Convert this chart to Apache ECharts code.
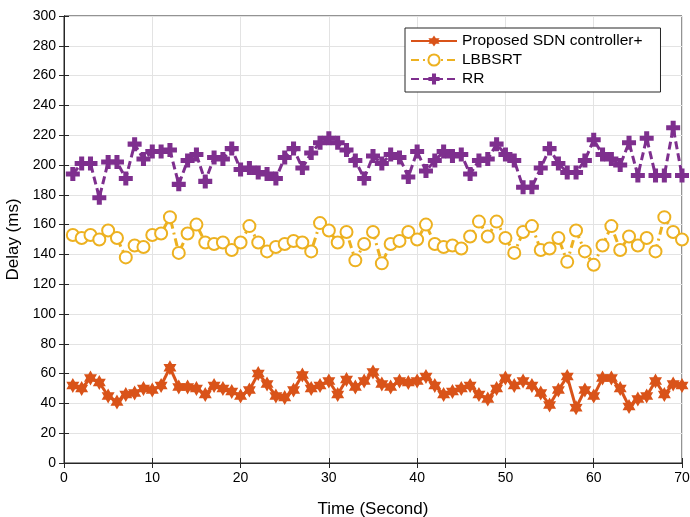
<!DOCTYPE html>
<html>
<head>
<meta charset="utf-8">
<script src="https://cdn.jsdelivr.net/npm/echarts@6/dist/echarts.min.js"></script>
<style>
  html, body { margin: 0; padding: 0; background: #fff; }
  #chart { width: 690px; height: 517px; }
</style>
</head>
<body>
<div id="chart"></div>
<script>
// time in seconds, one sample per second
const timeSec = [1, 2, 3, 4, 5, 6, 7, 8, 9, 10, 11, 12, 13, 14, 15, 16, 17, 18, 19, 20,
  21, 22, 23, 24, 25, 26, 27, 28, 29, 30, 31, 32, 33, 34, 35, 36, 37, 38, 39, 40,
  41, 42, 43, 44, 45, 46, 47, 48, 49, 50, 51, 52, 53, 54, 55, 56, 57, 58, 59, 60,
  61, 62, 63, 64, 65, 66, 67, 68, 69, 70];

// delay (ms)
const proposed = [52, 50, 57, 54, 45, 41, 46, 47, 50, 49, 52, 64, 51, 51, 50, 46, 52, 50, 48, 45,
  49, 60, 53, 45, 44, 49, 59, 50, 52, 55, 46, 56, 51, 55, 61, 53, 51, 55, 54, 55,
  58, 52, 46, 48, 50, 52, 46, 43, 50, 57, 52, 55, 52, 47, 39, 49, 58, 37, 49, 45,
  57, 57, 50, 38, 43, 45, 55, 46, 53, 52];
const lbbsrt = [153, 151, 153, 150, 156, 151, 138, 146, 145, 153, 154, 165, 141, 154, 160, 148, 147, 148, 143, 148,
  159, 148, 142, 145, 147, 149, 148, 142, 161, 156, 148, 155, 136, 147, 155, 134, 147, 149, 155, 150,
  160, 147, 145, 146, 144, 152, 162, 152, 162, 151, 141, 155, 159, 143, 144, 151, 135, 156, 142, 133,
  146, 159, 143, 152, 146, 151, 142, 165, 155, 150];
const rr = [194, 201, 201, 178, 202, 202, 191, 214, 204, 209, 209, 210, 187, 203, 207, 189, 205, 204, 211, 197,
  198, 195, 194, 191, 205, 211, 198, 208, 215, 218, 215, 210, 203, 191, 206, 201, 207, 205, 192, 209,
  196, 203, 209, 206, 207, 194, 203, 204, 214, 207, 203, 185, 185, 198, 211, 201, 195, 195, 203, 217,
  207, 204, 200, 215, 193, 218, 193, 193, 225, 193];

const seriesNames = ['Proposed SDN controller+', 'LBBSRT', 'RR'];

function pairs(vals) {
  return timeSec.map((t, i) => [t, vals[i]]);
}

const font = 'Liberation Sans, Arial, Helvetica, sans-serif';
const ink = '#262626';
const hexagram = 'path://M0,-100 L28.9,-50 L86.6,-50 L57.7,0 L86.6,50 L28.9,50 L0,100 L-28.9,50 L-86.6,50 L-57.7,0 L-86.6,-50 L-28.9,-50 Z';
const plus = 'path://M-1.8,-5 H1.8 V-1.8 H5 V1.8 H1.8 V5 H-1.8 V1.8 H-5 V-1.8 H-1.8 Z';

let chart = echarts.init(document.getElementById('chart'));
let option = {
  animation: false,
  backgroundColor: '#fff',
  textStyle: { fontFamily: font, color: ink },
  grid: {
    left: 64, right: 8, top: 16, bottom: 54,
    outerBoundsMode: 'none',
    show: true, borderColor: ink, borderWidth: 1, backgroundColor: '#fff'
  },
  legend: {
    data: seriesNames,
    orient: 'vertical',
    left: 405, top: 28,
    itemWidth: 46, itemHeight: 14, itemGap: 3,
    padding: [5, 18, 5, 5],
    backgroundColor: '#fff',
    borderColor: ink, borderWidth: 1, borderRadius: 0,
    textStyle: { fontFamily: font, fontSize: 15.5, color: '#000' }
  },
  xAxis: [{
    type: 'value', min: 0, max: 70, interval: 10,
    name: 'Time (Second)', nameLocation: 'middle', nameGap: 38,
    nameTextStyle: { fontSize: 17, color: '#000', fontFamily: font },
    axisLine: { show: true, lineStyle: { color: ink } },
    axisTick: { inside: true, length: 5, lineStyle: { color: ink } },
    axisLabel: { fontSize: 14, color: '#000', margin: 8 },
    splitLine: { show: true, lineStyle: { color: '#e3e3e3' } }
  }, {
    type: 'value', min: 0, max: 70, interval: 10, position: 'top',
    axisLine: { show: true, lineStyle: { color: ink } },
    axisTick: { inside: true, length: 5, lineStyle: { color: ink } },
    axisLabel: { show: false },
    splitLine: { show: false }
  }],
  yAxis: [{
    type: 'value', min: 0, max: 300, interval: 20,
    name: 'Delay (ms)', nameLocation: 'middle', nameGap: 42,
    nameTextStyle: { fontSize: 17, color: '#000', fontFamily: font },
    axisLine: { show: true, lineStyle: { color: ink } },
    axisTick: { inside: true, length: 5, lineStyle: { color: ink } },
    axisLabel: { fontSize: 14, color: '#000', margin: 8 },
    splitLine: { show: true, lineStyle: { color: '#e3e3e3' } }
  }, {
    type: 'value', min: 0, max: 300, interval: 20, position: 'right',
    axisLine: { show: true, lineStyle: { color: ink } },
    axisTick: { inside: true, length: 5, lineStyle: { color: ink } },
    axisLabel: { show: false },
    splitLine: { show: false }
  }],
  series: [
    {
      name: seriesNames[0], type: 'line', data: pairs(proposed),
      symbol: hexagram, symbolSize: 15, symbolKeepAspect: true,
      lineStyle: { color: '#D95319', width: 3 },
      itemStyle: { color: '#D95319' }
    },
    {
      name: seriesNames[1], type: 'line', data: pairs(lbbsrt),
      symbol: 'emptyCircle', symbolSize: 12,
      lineStyle: { color: '#EDB120', width: 3, type: [8, 4, 2, 4] },
      itemStyle: { color: '#EDB120', borderColor: '#EDB120', borderWidth: 3 }
    },
    {
      name: seriesNames[2], type: 'line', data: pairs(rr),
      symbol: plus, symbolSize: 14, symbolKeepAspect: true,
      lineStyle: { color: '#7E2F8E', width: 3, type: [8, 4] },
      itemStyle: { color: '#7E2F8E' }
    }
  ]
};
chart.setOption(option);
</script>
</body>
</html>
